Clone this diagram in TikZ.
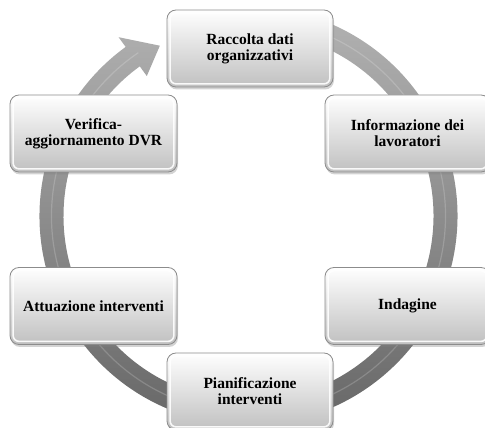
\documentclass[tikz,border=0pt]{standalone}
\usepackage{fontspec}
\setmainfont{Liberation Serif}
\usetikzlibrary{shadows,calc}
\definecolor{ringtop}{RGB}{178,178,178}
\definecolor{ringbot}{RGB}{100,100,100}
\definecolor{boxbot}{RGB}{192,192,192}
\definecolor{boxedge}{RGB}{140,140,140}
\tikzset{
  stepbox/.style={rounded corners=9pt, minimum height=77pt, inner sep=2pt,
    align=center, top color=white, bottom color=boxbot, draw=boxedge,
    line width=0.8pt,
    drop shadow={opacity=0.35, shadow xshift=1pt, shadow yshift=-2.5pt},
    font=\fontsize{15.5}{16}\selectfont\bfseries},
  bevel/.style={draw=white, line width=1.6pt, rounded corners=6pt, opacity=0.9}
}
\begin{document}
\begin{tikzpicture}[x=1pt,y=1pt]
\useasboundingbox (0,0) rectangle (485,428);
% ring arrow
\coordinate (c) at (248.5,212);
\path[top color=ringtop, bottom color=ringbot]
  ($(c)+(80:209)$) arc[start angle=80, end angle=-234, radius=209]
  -- ($(c)+(126:221)$) -- ($(c)+(117.5:192)$) -- ($(c)+(126:173)$)
  -- ($(c)+(126:185)$) arc[start angle=-234, end angle=80, radius=185]
  -- cycle;
\draw[white, opacity=0.18, line width=1.2pt]
  ($(c)+(80:197)$) arc[start angle=80, end angle=-236, radius=197];
% boxes
\node[stepbox, minimum width=166pt] (raccolta) at (250,379.5) {Raccolta dati\\organizzativi};
\node[stepbox, minimum width=165pt] (info) at (407.5,294.5) {Informazione dei\\lavoratori};
\node[stepbox, minimum width=165pt] (indagine) at (407.5,122) {Indagine};
\node[stepbox, minimum width=166pt] (pian) at (250,36.5) {Pianificazione\\interventi};
\node[stepbox, minimum width=167pt] (attua) at (93.5,122) {Attuazione interventi};
\node[stepbox, minimum width=167pt] (verifica) at (93.5,294.5) {Verifica-\\aggiornamento DVR};
\foreach \n in {raccolta,info,indagine,pian,attua,verifica}{
  \draw[bevel] ([shift={(3.5pt,3.5pt)}]\n.south west) rectangle ([shift={(-3.5pt,-3.5pt)}]\n.north east);
}
\end{tikzpicture}
\end{document}
